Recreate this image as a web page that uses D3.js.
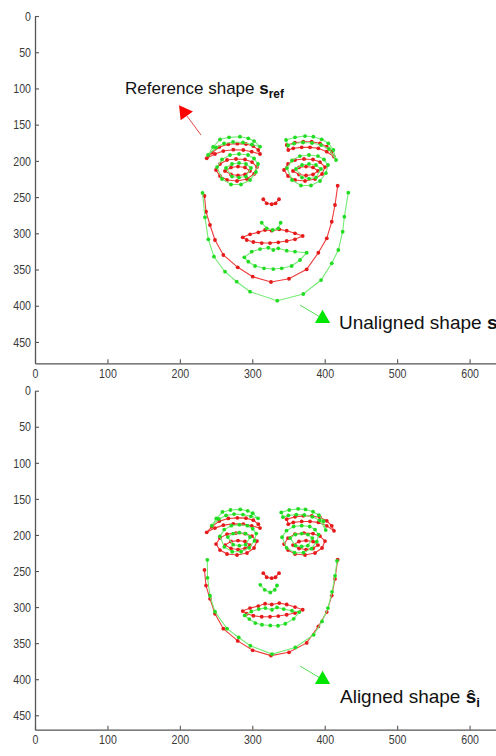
<!DOCTYPE html>
<html>
<head>
<meta charset="utf-8">
<script src="https://cdn.jsdelivr.net/npm/d3@7"></script>
<style>
  body { margin: 0; background: #fff; }
  .note { font-family: "Liberation Sans", Arial, sans-serif; fill: #111; }
</style>
</head>
<body>
<div id="chart"></div>
<script>
// tick labels
var xTicks = [0, 100, 200, 300, 400, 500, 600];
var yTicks = [0, 50, 100, 150, 200, 250, 300, 350, 400, 450];

// reference shape s_ref (red), same in both panels
var refJaw = [[234.0,248.5],[236.1,270.2],[241.6,288.5],[248.5,309.2],[260.0,329.9],[279.9,346.9],[300.6,359.9],[325.8,367.2],[350.7,362.7],[375.1,349.7],[391.2,326.8],[402.8,306.9],[409.7,284.0],[414.2,260.9],[417.9,234.3]];
var refBrowL = [[237.1,196.4],[244.0,188.7],[254.5,180.8],[266.9,177.1],[279.3,176.3],[291.3,176.7],[301.4,179.5],[308.3,185.0],[310.7,190.5],[299.2,187.3],[287.6,185.0],[273.8,184.6],[260.0,186.4],[248.5,190.5]];
var refBrowR = [[347.5,178.1],[359.0,174.9],[370.4,173.5],[382.0,173.5],[393.5,175.7],[402.8,180.4],[409.7,187.3],[412.8,194.2],[402.8,187.3],[391.2,182.6],[379.7,181.3],[368.2,181.3],[356.6,182.6],[349.7,185.0]];
var refEyeLOut = [[249.9,212.6],[255.4,204.3],[265.1,198.8],[277.5,197.4],[289.9,198.1],[299.6,201.6],[306.5,208.5],[302.4,218.1],[292.7,225.0],[278.9,227.8],[265.1,226.4],[255.4,220.9]];
var refEyeLIn = [[262.3,214.0],[270.6,209.1],[280.3,207.8],[289.9,209.1],[296.9,214.0],[289.9,218.8],[280.3,220.2],[270.6,218.8]];
var refEyeROut = [[343.8,212.6],[349.3,204.3],[359.0,198.8],[371.4,197.4],[383.8,198.1],[393.5,201.6],[400.4,208.5],[396.3,218.1],[386.6,225.0],[372.8,227.8],[359.0,226.4],[349.3,220.9]];
var refEyeRIn = [[356.2,214.0],[364.5,209.1],[374.2,207.8],[383.8,209.1],[390.8,214.0],[383.8,218.8],[374.2,220.2],[364.5,218.8]];
var refNose = [[315.2,253.0],[319.9,258.6],[326.8,259.9],[332.1,258.6],[336.9,253.0]];
var refMouth = [[286.8,305.5],[296.9,301.4],[308.3,298.6],[317.6,295.4],[326.8,296.4],[337.3,294.5],[347.5,296.4],[359.0,300.0],[369.6,303.7],[359.0,308.3],[347.5,310.6],[335.9,312.4],[324.5,313.4],[313.0,313.4],[301.4,312.0],[292.3,309.2]];

// unaligned shape s_i (green, top panel)
var unJaw = [[231.3,244.3],[234.7,277.9],[239.3,308.3],[247.1,332.3],[262.3,353.0],[278.5,366.8],[296.9,380.6],[334.5,393.0],[370.4,383.8],[394.9,364.5],[409.7,341.4],[418.8,323.0],[424.8,297.8],[427.1,277.1],[432.6,243.9]];
var unBrowL = [[238.9,191.9],[245.8,180.8],[255.4,170.5],[267.9,167.5],[283.0,166.6],[294.5,168.8],[302.4,172.6],[310.7,180.4],[299.6,177.4],[287.2,174.6],[273.4,173.9],[261.0,176.0],[249.9,181.5]];
var unBrowR = [[346.6,171.2],[359.0,167.5],[372.8,165.7],[384.3,166.6],[395.8,170.2],[405.0,175.7],[411.9,185.0],[415.6,198.8],[405.9,183.6],[394.9,178.1],[382.5,175.3],[370.0,174.6],[357.6,176.0],[349.3,178.8]];
var unEyeLOut = [[251.3,208.5],[258.2,198.1],[269.2,191.9],[281.7,190.5],[294.1,191.9],[302.4,196.7],[307.9,204.3],[305.1,215.4],[296.9,226.4],[284.4,232.6],[270.6,232.6],[258.2,225.0]];
var unEyeLIn = [[263.7,209.8],[272.0,204.3],[281.7,202.9],[291.3,204.3],[298.2,209.8],[291.3,221.6],[281.7,223.0],[272.0,221.6]];
var unEyeROut = [[347.9,209.9],[354.8,199.5],[365.8,193.3],[378.3,191.9],[390.7,193.3],[399.0,198.1],[404.5,205.7],[401.7,216.8],[393.5,227.8],[381.0,234.0],[367.2,234.0],[354.8,226.4]];
var unEyeRIn = [[360.3,211.2],[368.6,205.7],[378.3,204.3],[387.9,205.7],[394.8,211.2],[387.9,223.0],[378.3,224.4],[368.6,223.0]];
var unNose = [[313.0,285.4],[319.9,293.1],[328.2,295.4],[335.9,293.1],[339.2,285.4]];
var unMouth = [[289.0,333.1],[299.2,325.4],[310.7,321.7],[322.1,319.9],[329.0,323.0],[335.9,320.7],[347.5,324.0],[359.0,325.4],[375.1,326.8],[365.9,336.8],[354.4,345.1],[340.6,348.3],[329.0,349.3],[316.2,348.3],[303.8,345.1],[294.5,339.2]];

// aligned shape (green, bottom panel)
var alJaw = [[237.9,234.5],[238.2,259.4],[241.6,284.3],[248.5,306.4],[265.1,329.9],[281.3,342.1],[297.3,353.6],[327.2,365.1],[359.4,355.9],[384.8,338.4],[396.3,319.9],[404.5,301.4],[410.1,278.8],[414.2,256.6],[417.0,235.8]];
var alBrowL = [[244.1,187.1],[250.3,177.2],[258.8,168.0],[269.9,165.4],[283.4,164.6],[293.6,166.5],[300.6,169.9],[308.0,176.9],[298.1,174.2],[287.1,171.7],[274.8,171.1],[263.8,172.9],[253.9,177.8]];
var alBrowR = [[340.0,168.7],[351.0,165.4],[363.3,163.8],[373.5,164.6],[383.8,167.8],[392.0,172.7],[398.1,181.0],[401.4,193.2],[392.8,179.7],[383.0,174.8],[371.9,172.3],[360.8,171.7],[349.8,172.9],[342.4,175.4]];
var alEyeLOut = [[255.2,201.9],[261.3,192.6],[271.1,187.1],[282.2,185.8],[293.2,187.1],[300.6,191.4],[305.5,198.1],[303.0,208.0],[295.7,217.8],[284.6,223.3],[272.3,223.3],[261.3,216.6]];
var alEyeLIn = [[266.2,203.0],[273.6,198.1],[282.2,196.9],[290.8,198.1],[296.9,203.0],[290.8,213.5],[282.2,214.8],[273.6,213.5]];
var alEyeROut = [[341.1,203.1],[347.3,193.9],[357.1,188.3],[368.2,187.1],[379.2,188.3],[386.6,192.6],[391.5,199.4],[389.0,209.3],[381.7,219.0],[370.6,224.6],[358.3,224.6],[347.3,217.8]];
var alEyeRIn = [[352.2,204.3],[359.6,199.4],[368.2,198.1],[376.7,199.4],[382.9,204.3],[376.7,214.8],[368.2,216.0],[359.6,214.8]];
var alNose = [[311.1,269.1],[317.1,276.0],[324.9,279.8],[331.0,276.0],[334.1,270.1]];
var alMouth = [[289.5,311.6],[298.7,306.1],[308.9,302.8],[318.0,301.4],[327.2,303.7],[334.1,300.5],[343.4,302.8],[354.8,305.1],[364.9,306.9],[357.2,316.2],[345.6,323.1],[335.5,325.9],[324.9,325.5],[313.4,324.5],[304.2,322.1],[295.9,316.6]];

var refParts = [refJaw, refBrowL, refBrowR, refEyeLOut, refEyeLIn, refEyeROut, refEyeRIn, refNose, refMouth];
var unParts = [unJaw, unBrowL, unBrowR, unEyeLOut, unEyeLIn, unEyeROut, unEyeRIn, unNose, unMouth];
var alParts = [alJaw, alBrowL, alBrowR, alEyeLOut, alEyeLIn, alEyeROut, alEyeRIn, alNose, alMouth];
var closedPart = [false, true, true, true, true, true, true, false, true];

var RED = {line: "#f03a3a", dot: "#e51b1b"},
    GREEN = {line: "#74ec74", dot: "#22dc22"};

var svg = d3.select("#chart").append("svg")
    .attr("width", 496)
    .attr("height", 756)
    .style("display", "block");

function drawPanel(top, yMax, k, shapes){
    var xScale = d3.scaleLinear().domain([0, 700]).range([35, 35 + 700 * 0.7243]),
        yScale = d3.scaleLinear().domain([0, yMax]).range([top, top + yMax * k]);

    var g = svg.append("g");

    // axes, ticks pointing inside like matlab
    var xa = g.append("g")
        .attr("transform", "translate(0," + yScale(yMax) + ")")
        .call(d3.axisBottom(xScale).tickValues(xTicks).tickSizeInner(-4).tickSizeOuter(0).tickPadding(5));
    var ya = g.append("g")
        .attr("transform", "translate(" + xScale(0) + ",0)")
        .call(d3.axisLeft(yScale).tickValues(yTicks).tickSizeInner(-4).tickSizeOuter(0).tickPadding(4));

    [xa, ya].forEach(function(a){
        a.select(".domain").attr("stroke", "#555").attr("stroke-width", 1.3);
        a.selectAll(".tick line").attr("stroke", "#555").attr("stroke-width", 1.1);
        a.selectAll("text")
            .attr("fill", "#3a3a3a")
            .style("font-family", "'Liberation Sans', Arial, sans-serif")
            .style("font-size", "13px")
            .attr("textLength", function(d){ return String(d).length * 5.9; })
            .attr("lengthAdjust", "spacingAndGlyphs");
    });

    var line = d3.line().x(function(d){ return xScale(d[0]); }).y(function(d){ return yScale(d[1]); });

    shapes.forEach(function(s){
        var sg = g.append("g");
        s.parts.forEach(function(part, i){
            sg.append("path")
                .attr("d", line.curve(closedPart[i] ? d3.curveLinearClosed : d3.curveLinear)(part))
                .attr("fill", "none")
                .attr("stroke", s.color.line)
                .attr("stroke-width", 1.1);
            sg.selectAll(null)
                .data(part)
                .enter().append("circle")
                .attr("cx", function(d){ return xScale(d[0]); })
                .attr("cy", function(d){ return yScale(d[1]); })
                .attr("r", 1.9)
                .attr("fill", s.color.dot);
        });
    });

    return {g: g, x: xScale, y: yScale};
}

function note(p, tx, ty, main, sym, sub, size){
    var t = p.g.append("text")
        .attr("class", "note")
        .attr("x", p.x(tx))
        .attr("y", p.y(ty))
        .style("font-size", size + "px");
    t.append("tspan").text(main);
    t.append("tspan").attr("font-weight", "bold").text(sym);
    t.append("tspan").attr("font-weight", "bold").attr("dy", 4).style("font-size", (size * 0.7) + "px").text(sub);
}

function arrow(p, x1, y1, x2, y2, color, rot){
    p.g.append("line")
        .attr("x1", p.x(x1)).attr("y1", p.y(y1))
        .attr("x2", p.x(x2)).attr("y2", p.y(y2))
        .attr("stroke", color.line).attr("stroke-width", 1);
    p.g.append("path")
        .attr("d", d3.symbol(d3.symbolTriangle).size(100)())
        .attr("transform", "translate(" + p.x(x2) + "," + p.y(y2) + ") rotate(" + rot + ")")
        .attr("fill", color.tri);
}

var top1 = drawPanel(16, 479.5, 0.7244, [{parts: refParts, color: RED}, {parts: unParts, color: GREEN}]);
var top2 = drawPanel(390.7, 470, 0.7213, [{parts: refParts, color: RED}, {parts: alParts, color: GREEN}]);

arrow(top1, 229.2, 164.3, 206.0, 133.0, {line: "#e84a4a", tri: "#ff0000"}, -36);
note(top1, 124.3, 107.7, "Reference shape ", "s", "ref", 17);

arrow(top1, 365.9, 399.0, 397.0, 417.6, {line: "#55dd55", tri: "#00e600"}, 0);
note(top1, 419.7, 432.5, "Unaligned shape ", "s", "i", 19);

arrow(top2, 365.9, 381.7, 397.0, 400.4, {line: "#55dd55", tri: "#00e600"}, 0);
note(top2, 421.1, 433.0, "Aligned shape ", "\u015D", "i", 19);
</script>
</body>
</html>
